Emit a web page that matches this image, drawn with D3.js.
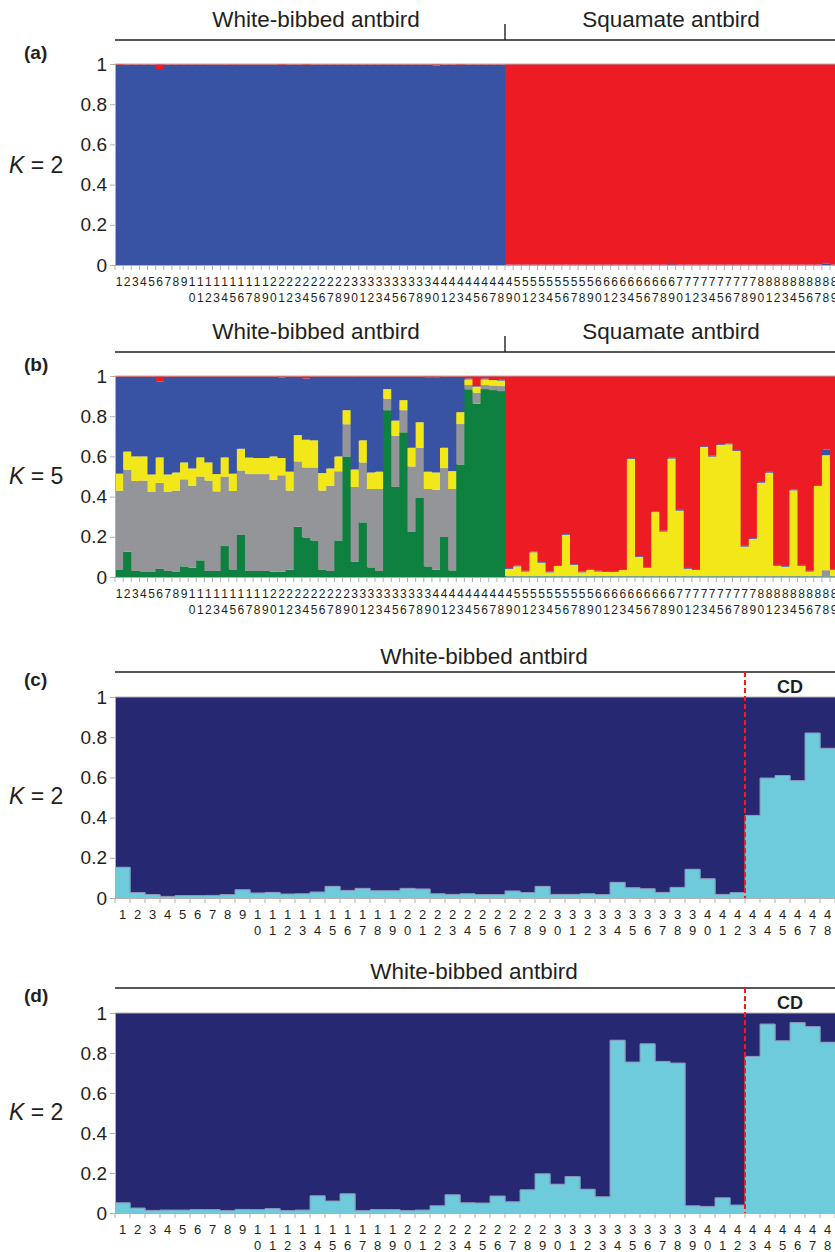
<!DOCTYPE html>
<html><head><meta charset="utf-8">
<script src="https://cdn.jsdelivr.net/npm/d3@7"></script>
<style>body{margin:0;background:#fff}svg{display:block}text{font-family:"Liberation Sans",Arial,Helvetica,sans-serif}</style>
</head><body>
<script>
// ---------- DATA ----------
const nWhite = 48;           // white-bibbed antbird individuals (1-48)
const nTotal = 89;           // individuals visible in panels a,b (49-89 squamate)
const yTicks = [0, 0.2, 0.4, 0.6, 0.8, 1];

// Panel (a) K=2 : proportion assigned to blue cluster (rest red)
const aBlue = [
 0.995,0.997,0.997,0.997,0.997,0.975,0.997,0.997,0.997,0.997,
 0.997,0.997,0.997,0.997,0.996,0.997,0.997,0.997,0.997,0.997,
 0.995,0.997,0.997,0.995,0.997,0.997,0.997,0.997,0.997,0.997,
 0.997,0.997,0.997,0.997,0.997,0.997,0.997,0.997,0.997,0.992,
 0.997,0.997,0.995,0.997,0.997,0.997,0.997,0.997,
 0.002,0.002,0.002,0.002,0.002,0.002,0.002,0.002,0.002,0.002,
 0.002,0.002,0.002,0.002,0.002,0.002,0.002,0.002,0.002,0.002,
 0.004,0.002,0.002,0.002,0.002,0.002,0.002,0.002,0.002,0.002,
 0.002,0.002,0.002,0.002,0.002,0.002,0.002,0.002,0.002,0.006,
 0.002
];

// Panel (b) K=5 : stacked proportions (bottom to top: green, gray, yellow, blue, red)
const bGreen = [
 0.038,0.126,0.030,0.028,0.025,0.040,0.030,0.025,0.053,0.046,
 0.083,0.030,0.030,0.154,0.038,0.209,0.030,0.030,0.030,0.026,
 0.026,0.036,0.250,0.197,0.182,0.035,0.030,0.182,0.600,0.075,
 0.272,0.048,0.030,0.830,0.448,0.720,0.224,0.393,0.053,0.036,
 0.199,0.033,0.560,0.934,0.862,0.935,0.930,0.925,
 0.003,0.003,0.003,0.003,0.003,0.003,0.003,0.003,0.003,0.003,
 0.003,0.003,0.003,0.003,0.003,0.003,0.003,0.003,0.003,0.003,
 0.003,0.003,0.003,0.003,0.003,0.003,0.003,0.003,0.003,0.003,
 0.003,0.003,0.003,0.003,0.003,0.003,0.003,0.003,0.003,0.003,
 0.003
];
const bGray = [
 0.392,0.408,0.448,0.452,0.398,0.428,0.393,0.405,0.433,0.407,
 0.417,0.450,0.396,0.346,0.390,0.321,0.482,0.482,0.482,0.457,
 0.480,0.394,0.325,0.348,0.363,0.395,0.424,0.344,0.160,0.373,
 0.298,0.390,0.408,0.057,0.255,0.110,0.326,0.250,0.385,0.398,
 0.343,0.405,0.201,0.021,0.055,0.020,0.023,0.025,
 0.002,0.002,0.002,0.002,0.002,0.002,0.002,0.002,0.002,0.002,
 0.002,0.002,0.002,0.002,0.002,0.002,0.002,0.002,0.002,0.002,
 0.002,0.002,0.002,0.002,0.002,0.002,0.002,0.002,0.002,0.002,
 0.002,0.002,0.002,0.002,0.002,0.002,0.002,0.002,0.002,0.031,
 0.002
];
const bYellow = [
 0.084,0.090,0.122,0.120,0.087,0.127,0.087,0.090,0.084,0.087,
 0.095,0.090,0.086,0.095,0.086,0.108,0.082,0.080,0.080,0.117,
 0.086,0.094,0.131,0.138,0.135,0.087,0.086,0.074,0.070,0.087,
 0.110,0.082,0.086,0.048,0.075,0.050,0.093,0.127,0.086,0.086,
 0.101,0.089,0.059,0.028,0.030,0.028,0.027,0.027,
 0.035,0.048,0.022,0.118,0.066,0.018,0.050,0.205,0.055,0.018,
 0.031,0.022,0.020,0.020,0.030,0.582,0.095,0.041,0.318,0.221,
 0.584,0.325,0.036,0.030,0.642,0.594,0.652,0.655,0.622,0.146,
 0.185,0.464,0.514,0.051,0.046,0.426,0.051,0.022,0.448,0.572,
 0.031
];
const bBlue = [
 0.482,0.372,0.396,0.396,0.486,0.378,0.486,0.476,0.426,0.456,
 0.401,0.426,0.484,0.401,0.482,0.358,0.402,0.404,0.404,0.396,
 0.400,0.472,0.290,0.305,0.316,0.479,0.456,0.396,0.166,0.461,
 0.316,0.476,0.472,0.061,0.218,0.116,0.353,0.226,0.470,0.474,
 0.353,0.469,0.176,0.005,0.003,0.005,0.005,0.007,
 0.004,0.004,0.004,0.004,0.004,0.004,0.004,0.004,0.004,0.004,
 0.004,0.004,0.004,0.004,0.004,0.004,0.004,0.004,0.004,0.004,
 0.004,0.004,0.004,0.004,0.004,0.004,0.004,0.004,0.004,0.004,
 0.004,0.004,0.004,0.004,0.004,0.004,0.004,0.004,0.004,0.028,
 0.004
];

// Panels (c),(d) K=2 within white-bibbed antbird : light-cyan cluster proportion
const cCyan = [
 0.153,0.027,0.017,0.008,0.012,0.012,0.013,0.017,0.041,0.025,
 0.028,0.020,0.021,0.030,0.058,0.038,0.048,0.036,0.036,0.048,
 0.045,0.021,0.018,0.021,0.017,0.017,0.035,0.027,0.058,0.018,
 0.018,0.021,0.017,0.078,0.051,0.046,0.028,0.053,0.143,0.096,
 0.018,0.027,0.411,0.597,0.609,0.584,0.821,0.745
];
const dCyan = [
 0.051,0.025,0.013,0.015,0.015,0.017,0.017,0.012,0.018,0.017,
 0.022,0.012,0.015,0.086,0.060,0.096,0.012,0.017,0.017,0.012,
 0.015,0.036,0.091,0.051,0.050,0.085,0.056,0.116,0.196,0.144,
 0.182,0.119,0.081,0.864,0.755,0.846,0.758,0.750,0.036,0.033,
 0.076,0.040,0.783,0.945,0.861,0.952,0.932,0.854
];
const cdStart = 43;   // first CD individual

// ---------- DRAW ----------
const W = 835, H = 1252;
const svg = d3.select("body").append("svg").attr("width", W).attr("height", H);
const colBlue = "#3953a4", colRed = "#ed1c24", colYellow = "#f2e718", colGray = "#939598", colGreen = "#0e8040";
const colNavy = "#262871", colCyan = "#6dcbdb";
const axisGray = "#b0b0b0";
const ink = "#231f20";

function yAxis(g, y) {
  const ax = d3.axisLeft(y).tickValues(yTicks).tickSize(5).tickPadding(3)
    .tickFormat(d => d === 0 ? "0" : d === 1 ? "1" : d3.format(".1f")(d));
  g.call(ax);
  g.select(".domain").attr("stroke", axisGray);
  g.selectAll(".tick line").attr("stroke", axisGray);
  g.selectAll(".tick text").attr("font-size", 19).attr("fill", ink)
    .style("font-family", '"Liberation Sans",Arial,sans-serif');
}

function xLabels(g, x, n, yBase, fs, bottom) {
  const ids = d3.range(1, n + 1);
  g.selectAll("line.xt").data(d3.range(1, n + 2)).join("line")
    .attr("x1", d => d <= n ? x(d) : x(n) + x.bandwidth()).attr("x2", d => d <= n ? x(d) : x(n) + x.bandwidth())
    .attr("y1", bottom).attr("y2", bottom + 5).attr("stroke", axisGray).attr("stroke-width", 1);
  g.append("line").attr("x1", x(1)).attr("x2", x(n) + x.bandwidth()).attr("y1", bottom + 0.5).attr("y2", bottom + 0.5)
    .attr("stroke", axisGray);
  g.selectAll("text.r1").data(ids).join("text")
    .attr("x", d => x(d) + x.bandwidth() / 2).attr("y", yBase).attr("text-anchor", "middle")
    .attr("font-size", fs).attr("fill", ink).text(d => String(d)[0]);
  g.selectAll("text.r2").data(ids.filter(d => d >= 10)).join("text")
    .attr("x", d => x(d) + x.bandwidth() / 2).attr("y", yBase + 16).attr("text-anchor", "middle")
    .attr("font-size", fs).attr("fill", ink).text(d => String(d)[1]);
}

function panelLabel(letter, k, yLetter, yK) {
  svg.append("text").attr("x", 24).attr("y", yLetter).attr("font-size", 19).attr("font-weight", "bold")
    .attr("fill", ink).text("(" + letter + ")");
  const t = svg.append("text").attr("x", 9).attr("y", yK).attr("font-size", 23).attr("fill", ink);
  t.append("tspan").attr("font-style", "italic").text("K");
  t.append("tspan").text(" = " + k);
}

// ---- panels a, b ----
const xAB = d3.scaleBand().domain(d3.range(1, 91)).range([115, 115 + 90 * 8.125]).paddingInner(0).paddingOuter(0);

function speciesHeader(yText, yLine) {
  svg.append("text").attr("x", 316).attr("y", yText).attr("text-anchor", "middle").attr("font-size", 22.5)
    .attr("fill", ink).text("White-bibbed antbird");
  svg.append("text").attr("x", 671).attr("y", yText).attr("text-anchor", "middle").attr("font-size", 22.5)
    .attr("fill", ink).text("Squamate antbird");
  svg.append("line").attr("x1", 115).attr("x2", 835).attr("y1", yLine).attr("y2", yLine).attr("stroke", ink).attr("stroke-width", 1.4);
  const xs = xAB(nWhite + 1);
  svg.append("line").attr("x1", xs).attr("x2", xs).attr("y1", yLine - 16).attr("y2", yLine).attr("stroke", ink).attr("stroke-width", 1.4);
}

function drawStack(top, bottom, rows, colors) {
  const y = d3.scaleLinear().domain([0, 1]).range([bottom, top]);
  const g = svg.append("g");
  const keys = colors.map((c, i) => i);
  const series = d3.stack().keys(keys)(rows);
  // one group per individual so that each bar overlaps the seam of the previous one
  const bars = g.selectAll("g.bar").data(rows.map((r, i) => i)).join("g").attr("class", "bar");
  bars.each(function(i) {
    const gb = d3.select(this);
    series.forEach((layer, li) => {
      const d = layer[i];
      const h = y(d[0]) - y(d[1]);
      if (h <= 0) return;
      gb.append("rect").attr("x", xAB(i + 1)).attr("width", xAB.bandwidth() + 1)
        .attr("y", y(d[1])).attr("height", h).attr("fill", colors[li]);
    });
  });
  g.append("line").attr("x1", 115).attr("x2", 835).attr("y1", top).attr("y2", top).attr("stroke", axisGray);
  yAxis(svg.append("g").attr("transform", "translate(115,0)"), y);
  xLabels(svg.append("g"), xAB, nTotal, bottom + 21, 12, bottom);
}

// Panel a
speciesHeader(27, 40);
panelLabel("a", 2, 59, 173);
drawStack(64, 265, aBlue.map(b => ({0: b, 1: 1 - b})), [colBlue, colRed]);

// Panel b
speciesHeader(339, 352);
panelLabel("b", 5, 371, 484);
const bRows = d3.range(nTotal).map(i => {
  const g = bGreen[i], gr = bGray[i], ye = bYellow[i], bl = bBlue[i];
  return {0: g, 1: gr, 2: ye, 3: bl, 4: Math.max(0, 1 - g - gr - ye - bl)};
});
drawStack(376, 577, bRows, [colGreen, colGray, colYellow, colBlue, colRed]);

// ---- panels c, d ----
const xCD = d3.scaleBand().domain(d3.range(1, 49)).range([115, 835]).paddingInner(0).paddingOuter(0);

function drawCD(letter, vals, xTitle, yTitle, yLine, top, bottom, yLetter, yK) {
  svg.append("text").attr("x", xTitle).attr("y", yTitle).attr("text-anchor", "middle").attr("font-size", 22.5)
    .attr("fill", ink).text("White-bibbed antbird");
  svg.append("line").attr("x1", 115).attr("x2", 835).attr("y1", yLine).attr("y2", yLine).attr("stroke", ink).attr("stroke-width", 1.4);
  panelLabel(letter, 2, yLetter, yK);
  const y = d3.scaleLinear().domain([0, 1]).range([bottom, top]);
  const g = svg.append("g");
  g.selectAll("rect.n").data(vals).join("rect")
    .attr("x", (d, i) => xCD(i + 1)).attr("width", xCD.bandwidth() + 0.5)
    .attr("y", y(1)).attr("height", d => y(d) - y(1)).attr("fill", colNavy);
  g.selectAll("rect.c").data(vals).join("rect")
    .attr("x", (d, i) => xCD(i + 1)).attr("width", xCD.bandwidth() + 0.5)
    .attr("y", d => y(d)).attr("height", d => bottom - y(d)).attr("fill", colCyan);
  const pts = [];
  vals.forEach((v, i) => { pts.push([xCD(i + 1), y(v)]); pts.push([xCD(i + 1) + xCD.bandwidth(), y(v)]); });
  g.append("path").attr("d", d3.line()(pts)).attr("fill", "none").attr("stroke", "#8a93b8").attr("stroke-width", 1);
  g.append("line").attr("x1", 115).attr("x2", 835).attr("y1", top).attr("y2", top).attr("stroke", axisGray);
  yAxis(svg.append("g").attr("transform", "translate(115,0)"), y);
  xLabels(svg.append("g"), xCD, 48, bottom + 21, 13, bottom);
  const xd = xCD(cdStart);
  svg.append("line").attr("x1", xd).attr("x2", xd).attr("y1", yLine).attr("y2", bottom)
    .attr("stroke", colRed).attr("stroke-width", 2).attr("stroke-dasharray", "5,3");
  svg.append("text").attr("x", (xd + 835) / 2).attr("y", yLine + 21).attr("text-anchor", "middle")
    .attr("font-size", 18).attr("font-weight", "bold").attr("fill", ink).text("CD");
}

drawCD("c", cCyan, 484, 664, 672, 697, 898, 686, 804);
drawCD("d", dCyan, 474, 979, 988, 1013, 1213, 1002, 1120);
</script>
</body></html>
